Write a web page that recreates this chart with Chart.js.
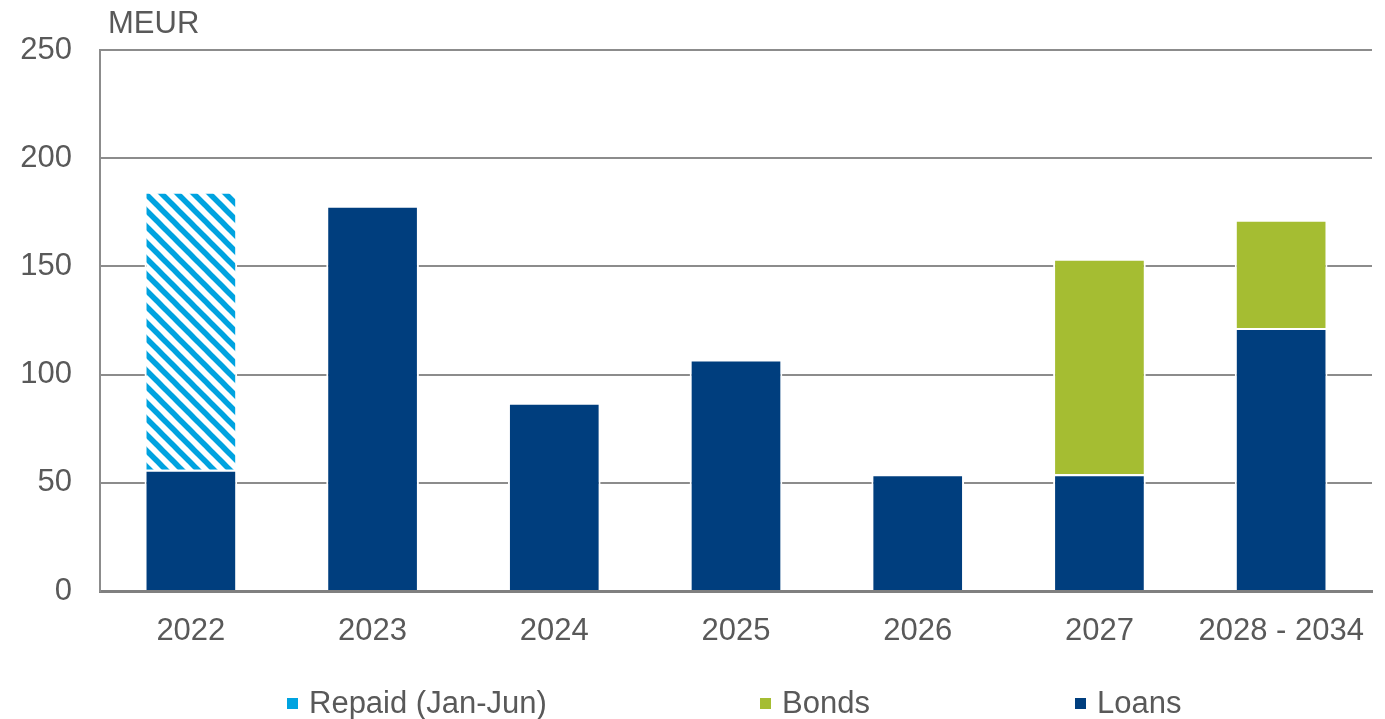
<!DOCTYPE html>
<html>
<head>
<meta charset="utf-8">
<script src="https://cdn.jsdelivr.net/npm/chart.js@4/dist/chart.umd.min.js"></script>
<style>
  body { margin: 0; background: #fff; }
  #wrap { position: relative; width: 1385px; height: 719px; }
  .leg { position: absolute; top: 683px; font: 31px "Liberation Sans", Arial, sans-serif; color: #595959; line-height: 40px; white-space: nowrap; }
  .leg i { display: inline-block; width: 11px; height: 11px; margin-right: 11px; vertical-align: 4px; }
</style>
</head>
<body>
<div id="wrap">
  <canvas id="chart" width="1385" height="719"></canvas>
  <div class="leg" style="left:287px"><i style="background:#00a3e0"></i>Repaid (Jan-Jun)</div>
  <div class="leg" style="left:760px"><i style="background:#a5bd32"></i>Bonds</div>
  <div class="leg" style="left:1075px"><i style="background:#003e7e"></i>Loans</div>
</div>
<script>
const years = ['2022', '2023', '2024', '2025', '2026', '2027', '2028 - 2034'];
const loans = [56, 178, 87, 107, 54, 54, 121.5];
const bonds = [null, null, null, null, null, 99.5, 50];
const repaid = [128.5, null, null, null, null, null, null];
const yTicks = [0, 50, 100, 150, 200, 250];

// diagonal stripes for the repaid part
function stripes() {
  const c = document.createElement('canvas');
  c.width = 16; c.height = 16;
  const g = c.getContext('2d');
  g.fillStyle = '#fff';
  g.fillRect(0, 0, 16, 16);
  g.strokeStyle = '#00a3e0';
  g.lineWidth = 5.5;
  [-16, 0, 16].forEach(d => {
    g.beginPath();
    g.moveTo(d - 2, -2);
    g.lineTo(d + 18, 18);
    g.stroke();
  });
  return g.createPattern(c, 'repeat');
}

const font = { family: '"Liberation Sans", Arial, sans-serif', size: 31 };

const unitLabel = {
  id: 'unitLabel',
  afterDraw(chart) {
    const ctx = chart.ctx;
    ctx.save();
    ctx.font = '31px "Liberation Sans", Arial, sans-serif';
    ctx.fillStyle = '#595959';
    ctx.textBaseline = 'middle';
    ctx.fillText('MEUR', chart.chartArea.left + 8, chart.chartArea.top - 26);
    ctx.restore();
  }
};

new Chart(document.getElementById('chart'), {
  type: 'bar',
  data: {
    labels: years,
    datasets: [
      { label: 'Loans', data: loans, backgroundColor: '#003e7e' },
      { label: 'Bonds', data: bonds, backgroundColor: '#a5bd32' },
      { label: 'Repaid (Jan-Jun)', data: repaid, backgroundColor: stripes() }
    ]
  },
  options: {
    responsive: false,
    animation: false,
    layout: { padding: { top: 50, right: 13, left: 0, bottom: 0 } },
    datasets: {
      bar: {
        borderColor: '#fff',
        borderWidth: 2,
        borderSkipped: 'start',
        categoryPercentage: 1,
        barPercentage: 0.51
      }
    },
    plugins: {
      legend: { display: false },
      tooltip: { enabled: false }
    },
    scales: {
      x: {
        stacked: true,
        grid: { display: false, drawTicks: false },
        border: { color: '#808080', width: 3 },
        ticks: { font: font, color: '#595959', padding: 22 },
        afterFit(s) { s.height = 128; s.paddingLeft = 0; s.paddingRight = 0; }
      },
      y: {
        stacked: true,
        min: 0,
        max: 250,
        afterBuildTicks(s) { s.ticks = yTicks.map(v => ({ value: v })); },
        grid: { color: '#8c8c8c', lineWidth: 2, drawTicks: false },
        border: { color: '#8c8c8c', width: 2 },
        ticks: { font: font, color: '#595959', padding: 28 },
        afterFit(s) { s.width = 100; }
      }
    }
  },
  plugins: [unitLabel]
});
</script>
</body>
</html>
